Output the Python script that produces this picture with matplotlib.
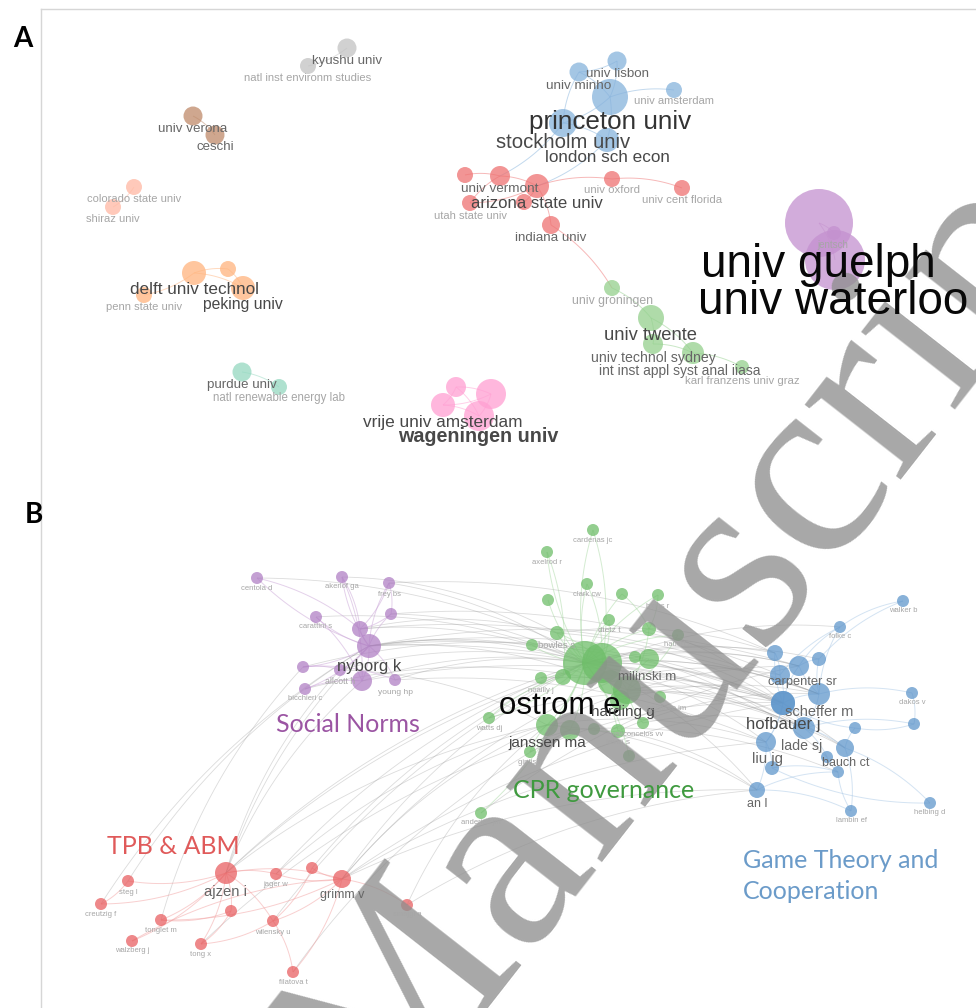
import numpy as np
import matplotlib
matplotlib.use("Agg")
import matplotlib.pyplot as plt
from matplotlib.patches import Circle
from matplotlib.collections import LineCollection

# ---------------- Panel A: institutions (layout coords) ----------------
A_NAME = ["kyushu univ", "natl inst environm studies",
          "univ verona", "ceschi",
          "colorado state univ", "shiraz univ",
          "univ lisbon", "univ minho", "princeton univ", "univ amsterdam", "stockholm univ", "london sch econ",
          "~r1", "univ vermont", "arizona state univ", "~r2", "utah state univ", "indiana univ", "univ oxford", "univ cent florida",
          "univ guelph", "univ waterloo", "jentsch",
          "delft univ technol", "~o1", "peking univ", "penn state univ",
          "purdue univ", "natl renewable energy lab",
          "~k1", "~k2", "vrije univ amsterdam", "wageningen univ",
          "univ groningen", "univ twente", "univ technol sydney", "int inst appl syst anal iiasa", "karl franzens univ graz"]
A_CLUSTER = ["gray", "gray", "brown", "brown", "salmon", "salmon",
             "blue", "blue", "blue", "blue", "blue", "blue",
             "red", "red", "red", "red", "red", "red", "red", "red",
             "purple", "purple", "purple",
             "orange", "orange", "orange", "orange",
             "teal", "teal",
             "pink", "pink", "pink", "pink",
             "green", "green", "green", "green", "green"]
A_X = [347, 308, 193, 215, 134, 113, 617, 579, 610, 674, 563, 607,
       465, 500, 537, 524, 470, 551, 612, 682,
       819, 835, 834, 194, 228, 243, 144, 242, 279,
       456, 491, 443, 479, 612, 651, 653, 693, 742]
A_Y = [48, 66, 116, 135, 187, 207, 61, 72, 97, 90, 123, 140,
       175, 176, 186, 202, 203, 225, 179, 188,
       223, 260, 233, 273, 269, 288, 295, 372, 387,
       387, 394, 405, 416, 288, 318, 344, 353, 367]
A_WEIGHT = [9.5, 8, 9.5, 9.5, 8, 8, 9.5, 9.5, 18, 8, 14, 12,
            8, 10, 12, 8, 8, 9, 8, 8,
            34, 30, 7, 12, 8, 12, 8, 9.5, 8,
            10, 15, 12, 15, 8, 13, 10, 11, 7]
A_LX = [347, 308, 193, 215, 134, 113, 617, 579, 610, 674, 563, 607,
        0, 500, 537, 0, 470, 551, 612, 682,
        818, 833, 833, 194, 0, 243, 144, 242, 279,
        0, 0, 443, 478, 612, 651, 653, 680, 742]
A_LY = [61, 78, 129, 147, 199, 219, 74, 86, 122, 101, 143, 157,
        0, 189, 203, 0, 216, 238, 190, 200,
        265, 302, 245, 290, 0, 304, 307, 385, 398,
        0, 0, 422, 437, 301, 336, 358, 371, 381]
A_LSIZE = [9.5, 8.1, 9.6, 9.5, 8, 8, 9.6, 9.7, 18.7, 8.1, 14.6, 12.3,
           0, 9.7, 12.1, 0, 8, 9.6, 8.2, 8.2,
           33, 33, 7, 12.3, 0, 11.3, 8, 9.6, 8.3,
           0, 0, 12.4, 14.2, 8.8, 13.2, 10.2, 10, 8.2]
A_EDGES = [("kyushu univ", "natl inst environm studies"), ("univ verona", "ceschi"),
           ("colorado state univ", "shiraz univ"),
           ("univ lisbon", "univ minho"), ("univ lisbon", "princeton univ"), ("univ minho", "princeton univ"),
           ("princeton univ", "univ amsterdam"), ("princeton univ", "stockholm univ"),
           ("princeton univ", "london sch econ"), ("stockholm univ", "london sch econ"),
           ("stockholm univ", "univ minho"),
           ("~r1", "univ vermont"), ("univ vermont", "arizona state univ"), ("arizona state univ", "univ oxford"),
           ("univ oxford", "univ cent florida"), ("arizona state univ", "utah state univ"),
           ("arizona state univ", "~r2"), ("arizona state univ", "indiana univ"), ("utah state univ", "univ vermont"),
           ("stockholm univ", "univ vermont"), ("indiana univ", "univ groningen"), ("london sch econ", "arizona state univ"),
           ("univ guelph", "univ waterloo"), ("univ guelph", "jentsch"),
           ("delft univ technol", "penn state univ"), ("delft univ technol", "~o1"),
           ("delft univ technol", "peking univ"), ("~o1", "peking univ"),
           ("purdue univ", "natl renewable energy lab"),
           ("~k1", "~k2"), ("~k1", "vrije univ amsterdam"), ("~k1", "wageningen univ"),
           ("~k2", "vrije univ amsterdam"), ("~k2", "wageningen univ"), ("vrije univ amsterdam", "wageningen univ"),
           ("univ groningen", "univ twente"), ("univ twente", "univ technol sydney"),
           ("univ twente", "int inst appl syst anal iiasa"), ("univ technol sydney", "int inst appl syst anal iiasa"),
           ("int inst appl syst anal iiasa", "karl franzens univ graz")]

# ---------------- Panel B: co-citation of authors ----------------
B_NAME = ["centola d", "akerlof ga", "frey bs", "~p4", "carattini s", "~p6", "nyborg k", "~p8",
          "allcott h", "~p10", "young hp", "bicchieri c",
          "cardenas jc", "axelrod r", "clark cw", "~g4", "~g5", "biggs r", "dietz t", "bowles s", "~g9",
          "~g10", "hauert c", "ostrom e", "~g13", "~g14", "~g15", "~g16", "milinski m", "~g18", "harding g",
          "noailly j", "pacheco jm", "watts dj", "janssen ma", "~g24", "~g25", "levin s", "vasconcelos vv",
          "gintis h", "~g29", "anderies jm",
          "walker b", "folke c", "~b3", "~b4", "~b5", "~b6", "carpenter sr", "scheffer m", "hofbauer j",
          "lade sj", "dakos v", "~b12", "~b13", "liu jg", "bauch ct", "~b16", "~b17", "~b18", "an l",
          "lambin ef", "helbing d",
          "ajzen i", "steg l", "creutzig f", "jager w", "~r5", "grimm v", "~r7", "tonglet m", "wilensky u",
          "walzberg j", "tong x", "smajgl a", "filatova t"]
B_CLUSTER = ["P"] * 12 + ["G"] * 30 + ["B"] * 21 + ["R"] * 13
B_X = [257, 342, 389, 391, 316, 360, 369, 303, 340, 362, 395, 305,
       593, 547, 587, 548, 622, 658, 609, 557, 532, 649, 678, 585, 602, 635, 563, 610, 627, 649, 620,
       541, 660, 489, 547, 570, 594, 618, 643, 530, 629, 481,
       903, 840, 775, 780, 819, 783, 799, 819, 783, 804, 912, 914, 855, 766, 845, 827, 772, 838, 757,
       851, 930,
       226, 128, 101, 276, 312, 342, 231, 161, 273, 132, 201, 407, 293]
B_Y = [578, 577, 583, 614, 617, 629, 646, 667, 670, 681, 680, 689,
       530, 552, 584, 600, 594, 595, 620, 633, 645, 629, 635, 663, 663, 657, 677, 682, 690, 659, 700,
       678, 697, 718, 725, 730, 729, 731, 723, 752, 756, 813,
       601, 627, 653, 675, 659, 703, 666, 694, 703, 728, 693, 724, 728, 742, 748, 757, 768, 772, 790,
       811, 803,
       873, 881, 904, 874, 868, 879, 911, 920, 921, 941, 944, 905, 972]
B_WEIGHT = [6, 6, 6, 6, 6, 8, 12, 6, 6, 10, 6, 6,
            6, 6, 6, 6, 6, 6, 6, 7, 6, 7, 6, 22, 20, 6, 8, 12, 14, 10, 10,
            6, 6, 6, 11, 10, 6, 7, 6, 6, 6, 6,
            6, 6, 8, 10, 7, 12, 10, 11, 12, 11, 6, 6, 6, 10, 9, 6, 7, 6, 8,
            6, 6,
            11, 6, 6, 6, 6, 9, 6, 6, 6, 6, 6, 6, 6]
B_LX = [257, 342, 389, 0, 316, 0, 369, 0, 340, 0, 395, 305,
        593, 547, 587, 0, 0, 658, 609, 557, 0, 0, 678, 560, 0, 0, 0, 0, 647, 0, 623,
        541, 667, 489, 547, 0, 0, 618, 637, 530, 0, 481,
        903, 840, 0, 0, 0, 0, 802, 819, 783, 802, 912, 0, 0, 767, 846, 0, 0, 0, 757,
        851, 930,
        226, 128, 101, 276, 0, 342, 0, 161, 273, 132, 201, 407, 293]
B_LY = [588, 587, 594, 0, 627, 0, 666, 0, 681, 0, 692, 699,
        540, 562, 594, 0, 0, 606, 631, 646, 0, 0, 645, 706, 0, 0, 0, 0, 677, 0, 712,
        690, 708, 728, 743, 0, 0, 743, 734, 762, 0, 823,
        611, 637, 0, 0, 0, 0, 682, 712, 724, 746, 703, 0, 0, 759, 763, 0, 0, 0, 804,
        821, 813,
        892, 892, 914, 885, 0, 895, 0, 930, 932, 951, 954, 915, 982]
B_LSIZE = [5.5, 5.5, 5.5, 0, 5.5, 0, 12, 0, 6.3, 0, 6, 5.5,
           5.5, 5.5, 5.5, 0, 0, 5.5, 6, 6.8, 0, 0, 5.5, 22.5, 0, 0, 0, 0, 9.5, 0, 11,
           5.5, 5.5, 5.5, 11, 0, 0, 6, 5.5, 5.5, 0, 5.5,
           5.5, 5.5, 0, 0, 0, 0, 9.3, 10.5, 12, 10.2, 5.5, 0, 0, 10.8, 9, 0, 0, 0, 9,
           5.5, 5.5,
           10.6, 5.5, 5.5, 5.5, 0, 9, 0, 5.5, 5.5, 5.5, 5.5, 5.5, 5.5]

B_EDGES_IN = [
    # social norms
    ("nyborg k", "centola d"), ("nyborg k", "akerlof ga"), ("nyborg k", "frey bs"), ("nyborg k", "~p4"),
    ("nyborg k", "carattini s"), ("nyborg k", "~p6"), ("nyborg k", "~p8"), ("nyborg k", "allcott h"),
    ("nyborg k", "~p10"), ("nyborg k", "young hp"), ("nyborg k", "bicchieri c"), ("centola d", "~p6"),
    ("akerlof ga", "~p6"), ("frey bs", "~p4"), ("~p4", "~p6"), ("carattini s", "~p10"), ("~p8", "allcott h"),
    ("bicchieri c", "~p10"), ("akerlof ga", "~p10"), ("frey bs", "~p6"), ("~p8", "young hp"),
    # CPR governance
    ("ostrom e", "cardenas jc"), ("ostrom e", "axelrod r"), ("ostrom e", "clark cw"), ("ostrom e", "~g4"),
    ("ostrom e", "~g5"), ("ostrom e", "biggs r"), ("ostrom e", "dietz t"), ("ostrom e", "bowles s"),
    ("ostrom e", "~g9"), ("ostrom e", "~g10"), ("ostrom e", "hauert c"), ("ostrom e", "noailly j"),
    ("ostrom e", "watts dj"), ("ostrom e", "janssen ma"), ("ostrom e", "~g24"), ("ostrom e", "gintis h"),
    ("ostrom e", "levin s"), ("ostrom e", "anderies jm"), ("ostrom e", "pacheco jm"), ("ostrom e", "~g29"),
    ("cardenas jc", "~g13"), ("axelrod r", "~g15"), ("clark cw", "~g13"), ("~g5", "~g10"), ("biggs r", "~g10"),
    ("dietz t", "~g13"), ("bowles s", "~g13"), ("~g10", "milinski m"), ("hauert c", "milinski m"),
    ("janssen ma", "~g24"), ("gintis h", "janssen ma"), ("~g13", "milinski m"), ("~g18", "~g16"),
    ("harding g", "~g16"), ("vasconcelos vv", "milinski m"), ("levin s", "~g25"), ("watts dj", "~g15"),
    # game theory
    ("hofbauer j", "scheffer m"), ("hofbauer j", "carpenter sr"), ("hofbauer j", "lade sj"),
    ("hofbauer j", "liu jg"), ("hofbauer j", "~b3"), ("scheffer m", "carpenter sr"), ("scheffer m", "lade sj"),
    ("scheffer m", "dakos v"), ("scheffer m", "~b5"), ("scheffer m", "folke c"), ("carpenter sr", "~b5"),
    ("carpenter sr", "folke c"), ("~b5", "walker b"), ("folke c", "walker b"), ("lade sj", "bauch ct"),
    ("lade sj", "~b12"), ("lade sj", "~b16"), ("bauch ct", "~b13"), ("bauch ct", "helbing d"),
    ("bauch ct", "lambin ef"), ("liu jg", "an l"), ("liu jg", "~b17"), ("an l", "lambin ef"),
    ("an l", "~b18"), ("~b18", "~b16"), ("~b12", "~b13"), ("~b13", "hofbauer j"), ("~b4", "~b6"),
    ("~b6", "liu jg"), ("~b3", "~b4"), ("dakos v", "~b12"), ("~b17", "~b18"), ("helbing d", "~b17"),
    ("~b4", "folke c"), ("lambin ef", "~b18"),
    # TPB & ABM
    ("ajzen i", "steg l"), ("ajzen i", "creutzig f"), ("ajzen i", "jager w"), ("ajzen i", "grimm v"),
    ("ajzen i", "~r7"), ("ajzen i", "tong x"), ("ajzen i", "wilensky u"), ("ajzen i", "tonglet m"),
    ("ajzen i", "walzberg j"), ("steg l", "creutzig f"), ("grimm v", "jager w"), ("grimm v", "~r5"),
    ("grimm v", "wilensky u"), ("grimm v", "smajgl a"), ("grimm v", "filatova t"), ("grimm v", "tonglet m"),
    ("~r7", "tong x"), ("wilensky u", "tong x"), ("wilensky u", "filatova t"), ("~r5", "wilensky u"),
    ("~r7", "tonglet m"), ("walzberg j", "grimm v")]

B_EDGES_OUT = [
    ("nyborg k", "ostrom e"), ("nyborg k", "~g13"), ("nyborg k", "milinski m"), ("nyborg k", "carpenter sr"),
    ("nyborg k", "hofbauer j"), ("nyborg k", "scheffer m"), ("nyborg k", "lade sj"), ("~p6", "ostrom e"),
    ("~p6", "bowles s"), ("~p4", "ostrom e"), ("~p4", "~b4"), ("frey bs", "ostrom e"), ("frey bs", "~b3"),
    ("allcott h", "ostrom e"), ("allcott h", "janssen ma"), ("~p10", "ostrom e"), ("~p10", "hofbauer j"),
    ("young hp", "ostrom e"), ("young hp", "liu jg"), ("carattini s", "ostrom e"), ("akerlof ga", "bowles s"),
    ("centola d", "~g13"), ("~p8", "~g18"), ("bicchieri c", "~g16"), ("~p6", "scheffer m"),
    ("ostrom e", "carpenter sr"), ("ostrom e", "scheffer m"), ("ostrom e", "hofbauer j"), ("ostrom e", "lade sj"),
    ("ostrom e", "liu jg"), ("ostrom e", "bauch ct"), ("ostrom e", "an l"), ("ostrom e", "~b3"),
    ("ostrom e", "~b5"), ("~g13", "carpenter sr"), ("~g13", "scheffer m"), ("~g13", "hofbauer j"),
    ("~g13", "folke c"), ("milinski m", "hofbauer j"), ("milinski m", "lade sj"), ("milinski m", "bauch ct"),
    ("janssen ma", "an l"), ("janssen ma", "liu jg"), ("janssen ma", "carpenter sr"), ("harding g", "scheffer m"),
    ("~g16", "hofbauer j"), ("~g16", "~b4"), ("bowles s", "hofbauer j"), ("bowles s", "~b3"),
    ("gintis h", "hofbauer j"), ("noailly j", "lade sj"), ("levin s", "scheffer m"), ("levin s", "an l"),
    ("vasconcelos vv", "lade sj"), ("watts dj", "hofbauer j"), ("anderies jm", "carpenter sr"),
    ("~g10", "~b6"), ("~g14", "~b16"), ("~g18", "bauch ct"), ("~g24", "~b18"),
    ("ajzen i", "ostrom e"), ("ajzen i", "nyborg k"), ("ajzen i", "~g13"), ("ajzen i", "janssen ma"),
    ("ajzen i", "~p10"), ("ajzen i", "allcott h"), ("grimm v", "ostrom e"), ("grimm v", "janssen ma"),
    ("grimm v", "an l"), ("grimm v", "liu jg"), ("grimm v", "~g16"), ("grimm v", "hofbauer j"),
    ("jager w", "ostrom e"), ("jager w", "janssen ma"), ("~r5", "ostrom e"), ("smajgl a", "janssen ma"),
    ("smajgl a", "an l"), ("wilensky u", "ostrom e"), ("tong x", "~g24"), ("steg l", "nyborg k"),
    ("creutzig f", "nyborg k"), ("tonglet m", "~p8"), ("filatova t", "~g24")]

NODE_COLORS = {"gray": "#c2c2c2", "brown": "#bf8a6a", "salmon": "#ffb8a3", "blue": "#86b3dc",
               "red": "#ee7272", "purple": "#c491cf", "orange": "#ffb47e",
               "teal": "#94d8c0", "pink": "#ff9fd2", "green": "#94d08d",
               "P": "#b07fc4", "G": "#6dbd68", "B": "#5f96cb", "R": "#e85f61"}
EDGE_COLORS = {"P": "#c9a3d6", "G": "#a9d9a4", "B": "#a9c8e6", "R": "#f2a0a0"}

CLUSTER_TEXT = [("Social Norms", 348, 725, "#9b55a3"), ("CPR governance", 604, 790, "#3f9a3f"),
                ("TPB & ABM", 173, 847, "#e05a5a"), ("Game Theory and\nCooperation", 743, 876, "#6b9bc9")]


def label_color(fs):
    if fs < 9:
        return "#a6a6a6"
    if fs < 11:
        return "#666666"
    if fs < 16:
        return "#484848"
    if fs < 20:
        return "#333333"
    return "#080808"


def curve(p0, p1, bend=0.12, n=30):
    p0, p1 = np.asarray(p0, float), np.asarray(p1, float)
    d = p1 - p0
    ctrl = (p0 + p1) / 2 + bend * np.array([d[1], -d[0]])
    t = np.linspace(0, 1, n)[:, None]
    return (1 - t) ** 2 * p0 + 2 * (1 - t) * t * ctrl + t ** 2 * p1


def draw_network(ax, names, clusters, xs, ys, weights, lx, ly, lsize, edges_in, edges_out, node_alpha):
    pos = {n: (x, y) for n, x, y in zip(names, xs, ys)}
    clu = dict(zip(names, clusters))
    segs_out = [curve(pos[a], pos[b]) for a, b in edges_out]
    ax.add_collection(LineCollection(segs_out, colors="#9a9a9a", linewidths=0.6, alpha=0.35, zorder=1))
    for a, b in edges_in:
        c = EDGE_COLORS.get(clu[a], NODE_COLORS[clu[a]])
        ax.add_collection(LineCollection([curve(pos[a], pos[b])], colors=c, linewidths=0.7,
                                         alpha=0.5, zorder=1))
    order = np.argsort(weights)[::-1]
    for i in order:
        ax.add_patch(Circle((xs[i], ys[i]), weights[i], fc=NODE_COLORS[clusters[i]],
                            ec="none", alpha=node_alpha, zorder=2))
    for i, n in enumerate(names):
        if n.startswith("~") or lsize[i] == 0:
            continue
        bold = n == "wageningen univ"
        ax.text(lx[i], ly[i], n, fontsize=lsize[i], ha="center", va="center",
                color=label_color(lsize[i]), family="Liberation Sans",
                fontweight="bold" if bold else "normal", zorder=4)


fig = plt.figure(figsize=(9.76, 10.08), dpi=100)
ax = fig.add_axes([0, 0, 1, 1])
ax.set_xlim(0, 976)
ax.set_ylim(1008, 0)
ax.axis("off")

# frame
ax.plot([41, 976], [8.5, 8.5], color="#d6d6d6", lw=1, zorder=0)
ax.plot([41, 41], [8.5, 1008], color="#d6d6d6", lw=1, zorder=0)

draw_network(ax, A_NAME, A_CLUSTER, A_X, A_Y, A_WEIGHT, A_LX, A_LY, A_LSIZE,
             A_EDGES, [], node_alpha=0.75)
draw_network(ax, B_NAME, B_CLUSTER, B_X, B_Y, B_WEIGHT, B_LX, B_LY, B_LSIZE,
             B_EDGES_IN, B_EDGES_OUT, node_alpha=0.74)

for txt, x, y, c in CLUSTER_TEXT:
    ax.text(x, y, txt, fontsize=18, color=c, family="Lato",
            ha="left" if "\n" in txt else "center", va="center", linespacing=1.45, zorder=4)

ax.text(23, 39, "A", fontsize=20, fontweight="bold", family="Lato", ha="center", va="center")
ax.text(34, 515, "B", fontsize=20, fontweight="bold", family="Lato", ha="center", va="center")

# watermark: above nodes and edges, below the labels
ax.text(378, 1139, "Manuscript", rotation=52, rotation_mode="anchor", ha="left", va="baseline",
        fontsize=191, family="Liberation Serif", color="#8f8f8f", alpha=0.78, zorder=3, clip_on=False)

fig.savefig("out.png", dpi=100)
